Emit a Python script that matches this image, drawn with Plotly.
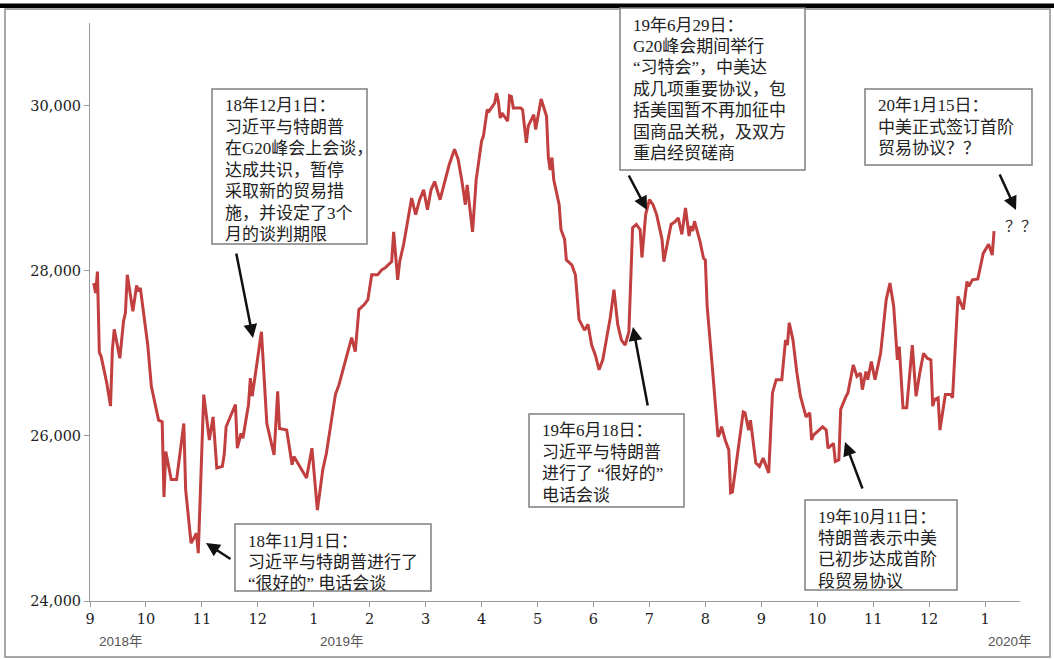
import calendar
import datetime as dt

import plotly.graph_objects as go

# Hang Seng Index daily closes, Sep 2018 - Jan 2020
dates = [
    "2018-09-03", "2018-09-04", "2018-09-05", "2018-09-06", "2018-09-07", "2018-09-10",
    "2018-09-12", "2018-09-13", "2018-09-14", "2018-09-17", "2018-09-19", "2018-09-20",
    "2018-09-21", "2018-09-24", "2018-09-26", "2018-09-27", "2018-09-28",
    "2018-10-02", "2018-10-04", "2018-10-08", "2018-10-10", "2018-10-11", "2018-10-12",
    "2018-10-15", "2018-10-18", "2018-10-22", "2018-10-23", "2018-10-26", "2018-10-29",
    "2018-10-30",
    "2018-11-02", "2018-11-05", "2018-11-07", "2018-11-09", "2018-11-12", "2018-11-13",
    "2018-11-14", "2018-11-19", "2018-11-20", "2018-11-22", "2018-11-23", "2018-11-26",
    "2018-11-27", "2018-11-28",
    "2018-12-03", "2018-12-06", "2018-12-10", "2018-12-12", "2018-12-13", "2018-12-17",
    "2018-12-20", "2018-12-21", "2018-12-28", "2018-12-31",
    "2019-01-03", "2019-01-06", "2019-01-08", "2019-01-11", "2019-01-13", "2019-01-15",
    "2019-01-18", "2019-01-21", "2019-01-22", "2019-01-24", "2019-01-26", "2019-01-29",
    "2019-01-31",
    "2019-02-02", "2019-02-05", "2019-02-07", "2019-02-09", "2019-02-12", "2019-02-13",
    "2019-02-15", "2019-02-16", "2019-02-18", "2019-02-21", "2019-02-22", "2019-02-24",
    "2019-02-26", "2019-02-28",
    "2019-03-02", "2019-03-04", "2019-03-06", "2019-03-09", "2019-03-11", "2019-03-14",
    "2019-03-17", "2019-03-19", "2019-03-21", "2019-03-23", "2019-03-24", "2019-03-27",
    "2019-03-29",
    "2019-04-01", "2019-04-02", "2019-04-04", "2019-04-05", "2019-04-08", "2019-04-09",
    "2019-04-10", "2019-04-11", "2019-04-12", "2019-04-15", "2019-04-16", "2019-04-17",
    "2019-04-18", "2019-04-22", "2019-04-23", "2019-04-25", "2019-04-26", "2019-04-29",
    "2019-04-30",
    "2019-05-03", "2019-05-06", "2019-05-07", "2019-05-08", "2019-05-09", "2019-05-10",
    "2019-05-13", "2019-05-14", "2019-05-16", "2019-05-17", "2019-05-20", "2019-05-22",
    "2019-05-24", "2019-05-27", "2019-05-29", "2019-05-31",
    "2019-06-02", "2019-06-04", "2019-06-06", "2019-06-08", "2019-06-10", "2019-06-12",
    "2019-06-14", "2019-06-16", "2019-06-18", "2019-06-20", "2019-06-22", "2019-06-24",
    "2019-06-26", "2019-06-27", "2019-06-29",
    "2019-07-01", "2019-07-03", "2019-07-05", "2019-07-08", "2019-07-09", "2019-07-11",
    "2019-07-13", "2019-07-15", "2019-07-17", "2019-07-19", "2019-07-21", "2019-07-23",
    "2019-07-24", "2019-07-25", "2019-07-26", "2019-07-29", "2019-07-31",
    "2019-08-01", "2019-08-02", "2019-08-05", "2019-08-08", "2019-08-09", "2019-08-10",
    "2019-08-12", "2019-08-14", "2019-08-15", "2019-08-16", "2019-08-22", "2019-08-23",
    "2019-08-25", "2019-08-26", "2019-08-29", "2019-08-31",
    "2019-09-02", "2019-09-05", "2019-09-07", "2019-09-09", "2019-09-12", "2019-09-14",
    "2019-09-15", "2019-09-16", "2019-09-18", "2019-09-20", "2019-09-22", "2019-09-25",
    "2019-09-27", "2019-09-28", "2019-09-29", "2019-09-30",
    "2019-10-03", "2019-10-04", "2019-10-06", "2019-10-07", "2019-10-10", "2019-10-11",
    "2019-10-13", "2019-10-14", "2019-10-17", "2019-10-18", "2019-10-21", "2019-10-23",
    "2019-10-25", "2019-10-26", "2019-10-28", "2019-10-29", "2019-10-31",
    "2019-11-02", "2019-11-05", "2019-11-08", "2019-11-10", "2019-11-12", "2019-11-14",
    "2019-11-15", "2019-11-17", "2019-11-19", "2019-11-22", "2019-11-24", "2019-11-26",
    "2019-11-28", "2019-11-30",
    "2019-12-02", "2019-12-03", "2019-12-04", "2019-12-06", "2019-12-07", "2019-12-10",
    "2019-12-13", "2019-12-14", "2019-12-17", "2019-12-20", "2019-12-22", "2019-12-23",
    "2019-12-25", "2019-12-28", "2019-12-31",
    "2020-01-03", "2020-01-05", "2020-01-06",
]
closes = [
    27850, 27730, 27990, 27010, 26960, 26640,
    26360, 27040, 27290, 26940, 27390, 27490,
    27950, 27510, 27820, 27750, 27790,
    27100, 26600, 26190, 26170, 25260, 25810,
    25470, 25470, 26150, 25350, 24700, 24820,
    24580,
    26500, 25950, 26230, 25610, 25630, 25780,
    26110, 26380, 25850, 26030, 25970, 26380,
    26700, 26480,
    27260, 26150, 25770, 26540, 26090, 26070,
    25650, 25750, 25490, 25850,
    25100, 25590, 25790, 26190, 26500, 26620,
    26860, 27100, 27190, 27020, 27530, 27590,
    27650,
    27950, 27950, 28010, 28040, 28110, 28470,
    27890, 28110, 28320, 28740, 28880, 28680,
    28860, 28980,
    28740, 28980, 29080, 28860, 29040, 29280,
    29470, 29350, 29100, 28800, 29040, 28470,
    29100,
    29570, 29630, 29950, 29930, 30030, 30150,
    30050, 29850, 29910, 29810, 30120, 30110,
    29970, 29970, 29950, 29550, 29750, 29890,
    29710,
    30080, 29870, 29370, 29220, 29370, 29100,
    28800, 28500, 28380, 28130, 28070, 27950,
    27410, 27280, 27350, 27100,
    26980, 26800, 26920, 27160, 27430, 27770,
    27350, 27160, 27100, 27260, 28520, 28560,
    28500, 28160, 28680,
    28860, 28800, 28680, 28380, 28110, 28320,
    28560, 28590, 28640, 28440, 28760, 28420,
    28540, 28480, 28600, 28360, 28150,
    28130, 27570, 26800, 25990, 26030, 26110,
    25950, 25830, 25310, 25320, 26290, 26280,
    26070, 26190, 25670, 25630,
    25730, 25550, 26520, 26680, 26680, 27160,
    27100, 27370, 27160, 26780, 26480, 26230,
    26280, 25950, 26010, 26030,
    26090, 26110, 26070, 25850, 25910, 25690,
    25710, 26320, 26480, 26520, 26860, 26720,
    26760, 26560, 26780, 26680, 26900,
    26680, 27000, 27650, 27850, 27570, 26920,
    27080, 26340, 26340, 27100, 26480, 26760,
    27000, 26940,
    26920, 26360, 26440, 26460, 26070, 26500,
    26500, 26460, 27690, 27530, 27870, 27810,
    27890, 27900, 28210,
    28320, 28190, 28480,
]

month_labels = ["9", "10", "11", "12", "1", "2", "3", "4", "5", "6", "7", "8",
                "9", "10", "11", "12", "1"]
year_labels = ["2018年", "2019年", "2020年"]
year_label_months = [0.55, 4.5, 16.45]

y_ticks = [24000, 26000, 28000, 30000]

# Event notes: (lines, box left/top/right/bottom in px, arrow tail px, arrow head px)
events = [
    (["18年12月1日：", "习近平与特朗普", "在G20峰会上会谈，", "达成共识，暂停",
      "采取新的贸易措", "施，并设定了3个", "月的谈判期限"],
     (212, 89, 367, 244), (236, 252), (253, 338)),
    (["19年6月29日：", "G20峰会期间举行", "“习特会”，中美达", "成几项重要协议，包",
      "括美国暂不再加征中", "国商品关税，及双方", "重启经贸磋商"],
     (620, 8, 805, 170), (628, 174), (647, 210)),
    (["20年1月15日：", "中美正式签订首阶", "贸易协议？？"],
     (865, 89, 1032, 165), (999, 173), (1016, 210)),
    (["18年11月1日：", "习近平与特朗普进行了", "“很好的” 电话会谈"],
     (235, 524, 431, 591), (232, 560), (206, 543)),
    (["19年6月18日：", "习近平与特朗普", "进行了 “很好的”", "电话会谈"],
     (529, 414, 684, 507), (648, 407), (633, 327)),
    (["19年10月11日：", "特朗普表示中美", "已初步达成首阶", "段贸易协议"],
     (805, 500, 957, 590), (863, 490), (845, 442)),
]


def month_pos(s):
    d = dt.date.fromisoformat(s)
    n = calendar.monthrange(d.year, d.month)[1]
    return (d.year - 2018) * 12 + (d.month - 9) + (d.day - 1) / n


W, H = 1054, 659
L, R, T, B = 90, 1020, 23, 601
X_RANGE = [0, 16.625]
Y_RANGE = [24000, 31000]


def px(x):
    return (x - L) / (R - L)


def py(y):
    return (B - y) / (B - T)


x_vals = [month_pos(d) for d in dates]

fig = go.Figure()
fig.add_trace(go.Scatter(
    x=x_vals, y=closes, mode="lines",
    line=dict(color="#C23F3F", width=3),
    hoverinfo="skip", showlegend=False,
))

note_family = "Liberation Serif, Noto Sans CJK SC"
note_font = dict(family=note_family, size=17, color="#222222")

shapes = [
    # outer frame
    dict(type="rect", xref="paper", yref="paper",
         x0=px(5), x1=px(1050), y0=py(657), y1=py(9),
         line=dict(color="#8a8a8a", width=1.5), fillcolor="rgba(0,0,0,0)", layer="below"),
    # heavy rule across the top
    dict(type="rect", xref="paper", yref="paper",
         x0=px(0), x1=px(W), y0=py(8), y1=py(3.5),
         line=dict(width=0), fillcolor="#000000"),
]
annotations = []

LINE_H = 21.4
for lines, (bx0, by0, bx1, by1), tail, head in events:
    shapes.append(dict(type="rect", xref="paper", yref="paper",
                       x0=px(bx0), x1=px(bx1), y0=py(by1), y1=py(by0),
                       line=dict(color="#7f7f7f", width=1.5), fillcolor="#ffffff"))
    for i, t in enumerate(lines):
        annotations.append(dict(
            xref="paper", yref="paper", x=px(bx0 + 11), y=py(by0 + 17 + i * LINE_H),
            text=t, showarrow=False, xanchor="left", yanchor="middle",
            font=note_font,
        ))
    annotations.append(dict(
        xref="paper", yref="paper", x=px(head[0]), y=py(head[1]),
        ax=tail[0] - head[0], ay=tail[1] - head[1], axref="pixel", ayref="pixel",
        text="", showarrow=True, arrowhead=2, arrowsize=1.1, arrowwidth=2.5,
        arrowcolor="#111111", standoff=0,
    ))

annotations.append(dict(
    xref="paper", yref="paper", x=px(1003), y=py(227), text="？？",
    showarrow=False, xanchor="left", yanchor="middle",
    font=dict(family=note_family, size=16, color="#333333"),
))

for lab, m in zip(year_labels, year_label_months):
    annotations.append(dict(
        xref="x", yref="paper", x=m, y=py(641), text=lab, showarrow=False,
        xanchor="center", yanchor="middle",
        font=dict(family="Liberation Sans, Noto Sans CJK SC", size=13.5, color="#555555"),
    ))

fig.update_layout(
    width=W, height=H,
    margin=dict(l=L, r=W - R, t=T, b=H - B),
    paper_bgcolor="#ffffff", plot_bgcolor="#ffffff",
    xaxis=dict(
        range=X_RANGE, tickmode="array", tickvals=list(range(len(month_labels))),
        ticktext=month_labels, showgrid=False, zeroline=False,
        showline=True, linecolor="#9a9a9a", linewidth=1,
        ticks="outside", ticklen=5, tickcolor="#9a9a9a",
        tickfont=dict(family="DejaVu Serif", size=14.5, color="#222222"),
    ),
    yaxis=dict(
        range=Y_RANGE, tickmode="array", tickvals=y_ticks,
        ticktext=[f"{v:,}" for v in y_ticks], showgrid=False, zeroline=False,
        showline=True, linecolor="#9a9a9a", linewidth=1,
        ticks="outside", ticklen=5, tickcolor="#9a9a9a",
        tickfont=dict(family="DejaVu Serif", size=14.5, color="#222222"),
    ),
    shapes=shapes,
    annotations=annotations,
)

fig.write_html("out.html")
